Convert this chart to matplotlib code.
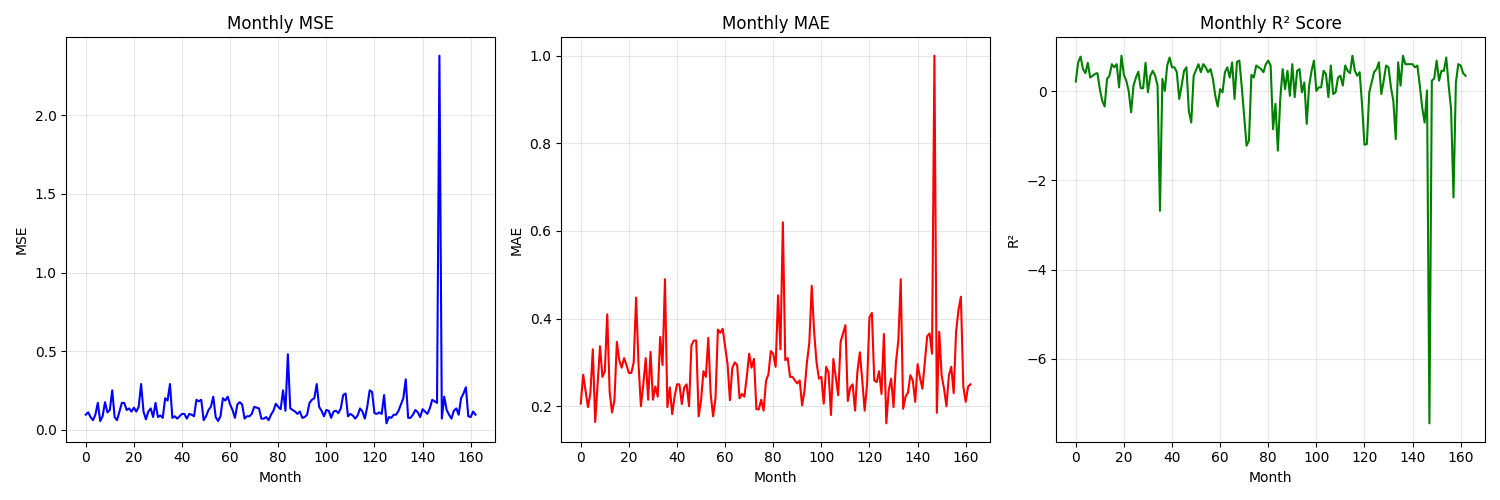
import numpy as np
import matplotlib
matplotlib.use("Agg")
from matplotlib import pyplot as plt

# monthly metrics (months 0..162)
mse = [
    0.095, 0.11, 0.08, 0.06, 0.095, 0.17, 0.055, 0.085, 0.175, 0.11,
    0.125, 0.25, 0.08, 0.06, 0.115, 0.17, 0.17, 0.125, 0.135, 0.115,
    0.14, 0.115, 0.145, 0.29, 0.115, 0.065, 0.115, 0.135, 0.08, 0.17,
    0.08, 0.09, 0.075, 0.20, 0.185, 0.29, 0.075, 0.085, 0.07, 0.085,
    0.10, 0.10, 0.07, 0.10, 0.095, 0.085, 0.19, 0.18, 0.19, 0.06,
    0.085, 0.125, 0.145, 0.21, 0.08, 0.055, 0.085, 0.20, 0.185, 0.21,
    0.16, 0.125, 0.075, 0.16, 0.175, 0.16, 0.07, 0.085, 0.085, 0.10,
    0.145, 0.14, 0.135, 0.07, 0.07, 0.08, 0.06, 0.095, 0.12, 0.165,
    0.145, 0.13, 0.25, 0.12, 0.48, 0.135, 0.125, 0.115, 0.10, 0.115,
    0.075, 0.08, 0.095, 0.17, 0.19, 0.20, 0.29, 0.145, 0.12, 0.085,
    0.125, 0.12, 0.075, 0.115, 0.12, 0.105, 0.135, 0.22, 0.23, 0.085,
    0.10, 0.09, 0.07, 0.09, 0.135, 0.115, 0.07, 0.145, 0.25, 0.24,
    0.105, 0.10, 0.11, 0.10, 0.22, 0.04, 0.08, 0.075, 0.095, 0.095,
    0.12, 0.16, 0.20, 0.32, 0.075, 0.075, 0.095, 0.125, 0.11, 0.08,
    0.13, 0.115, 0.10, 0.135, 0.19, 0.18, 0.17, 2.38, 0.07, 0.21,
    0.125, 0.095, 0.07, 0.12, 0.135, 0.095, 0.20, 0.23, 0.27, 0.085,
    0.08, 0.115, 0.095,
]

mae = [
    0.206, 0.272, 0.235, 0.198, 0.23, 0.33, 0.164, 0.25, 0.337, 0.267,
    0.28, 0.41, 0.233, 0.186, 0.214, 0.347, 0.305, 0.288, 0.31, 0.294,
    0.276, 0.276, 0.30, 0.448, 0.297, 0.20, 0.25, 0.31, 0.215, 0.324,
    0.215, 0.245, 0.222, 0.358, 0.294, 0.49, 0.198, 0.243, 0.182, 0.222,
    0.25, 0.25, 0.205, 0.243, 0.25, 0.20, 0.339, 0.35, 0.35, 0.177,
    0.214, 0.28, 0.267, 0.356, 0.228, 0.177, 0.218, 0.375, 0.368, 0.377,
    0.336, 0.297, 0.214, 0.288, 0.30, 0.294, 0.218, 0.228, 0.222, 0.267,
    0.32, 0.288, 0.308, 0.193, 0.193, 0.215, 0.19, 0.258, 0.273, 0.326,
    0.32, 0.29, 0.453, 0.33, 0.62, 0.305, 0.31, 0.267, 0.267, 0.259,
    0.252, 0.259, 0.202, 0.236, 0.30, 0.345, 0.475, 0.37, 0.30, 0.263,
    0.267, 0.206, 0.29, 0.277, 0.18, 0.308, 0.267, 0.225, 0.347, 0.366,
    0.385, 0.212, 0.243, 0.25, 0.19, 0.28, 0.323, 0.259, 0.19, 0.25,
    0.403, 0.413, 0.259, 0.255, 0.28, 0.228, 0.365, 0.161, 0.236, 0.263,
    0.198, 0.30, 0.35, 0.49, 0.194, 0.222, 0.231, 0.271, 0.259, 0.21,
    0.296, 0.265, 0.24, 0.30, 0.36, 0.366, 0.32, 1.0, 0.185, 0.37,
    0.27, 0.24, 0.20, 0.27, 0.29, 0.23, 0.37, 0.42, 0.45, 0.245,
    0.21, 0.245, 0.25,
]

r2 = [
    0.22, 0.65, 0.78, 0.50, 0.41, 0.64, 0.31, 0.35, 0.39, 0.41,
    0.05, -0.21, -0.34, 0.28, 0.35, 0.61, 0.54, 0.61, 0.09, 0.80,
    0.37, 0.24, 0.01, -0.47, 0.13, 0.31, 0.44, 0.07, 0.07, 0.64,
    -0.02, 0.35, 0.46, 0.35, 0.13, -2.68, 0.28, 0.01, 0.58, 0.76,
    0.54, 0.54, 0.43, -0.17, 0.13, 0.46, 0.54, -0.44, -0.70, 0.35,
    0.48, 0.61, 0.43, 0.61, 0.54, 0.43, 0.50, 0.28, -0.10, -0.34,
    0.05, -0.02, 0.43, 0.54, 0.31, 0.65, -0.17, 0.66, 0.69, 0.10,
    -0.55, -1.22, -1.10, 0.37, 0.31, 0.58, 0.54, 0.50, 0.43, 0.61,
    0.69, 0.58, -0.85, -0.28, -1.33, -0.17, 0.50, 0.05, 0.46, -0.10,
    0.61, -0.13, 0.46, 0.50, -0.02, 0.20, -0.73, 0.13, 0.46, 0.69,
    0.01, 0.09, 0.09, 0.46, 0.39, -0.13, 0.58, -0.06, -0.02, 0.31,
    0.35, 0.13, 0.58, 0.46, 0.41, 0.80, 0.46, 0.35, 0.43, -0.30,
    -1.20, -1.18, -0.02, 0.20, 0.43, 0.50, 0.65, -0.06, 0.24, 0.58,
    0.54, 0.09, -0.21, -1.07, 0.65, 0.13, 0.80, 0.61, 0.61, 0.61,
    0.61, 0.54, 0.58, 0.13, -0.37, -0.70, 0.02, -7.45, 0.24, 0.29,
    0.69, 0.24, 0.46, 0.46, 0.76, 0.13, -0.40, -2.38, 0.20, 0.61,
    0.58, 0.41, 0.35,
]

months = np.arange(len(mae))

panels = [
    (mse, "b", "Monthly MSE", "MSE"),
    (mae, "r", "Monthly MAE", "MAE"),
    (r2, "g", "Monthly R² Score", "R²"),
]

fig, axes = plt.subplots(1, 3, figsize=(15, 5), dpi=100)
for ax, (values, color, title, ylabel) in zip(axes, panels):
    ax.plot(months, values, color=color, linewidth=1.5)
    ax.set_title(title)
    ax.set_xlabel("Month")
    ax.set_ylabel(ylabel)
    ax.grid(True, alpha=0.3)

plt.tight_layout()
plt.savefig("out.png")
